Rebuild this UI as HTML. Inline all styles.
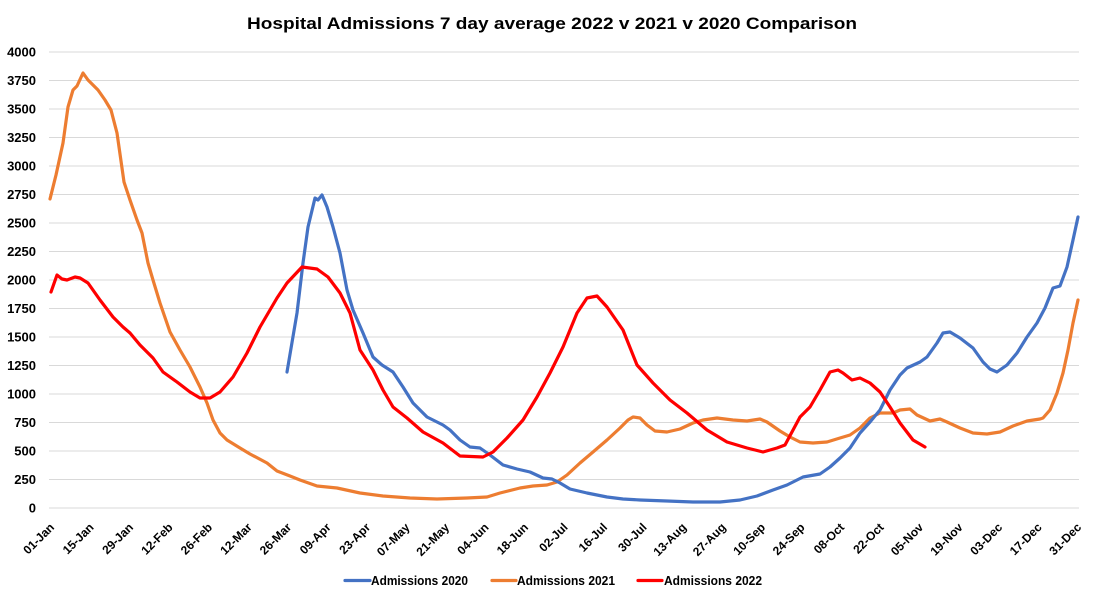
<!DOCTYPE html>
<html>
<head>
<meta charset="utf-8">
<style>
  html, body { margin: 0; padding: 0; background: #ffffff; }
  svg { display: block; }
  text { font-family: "Liberation Sans", Arial, sans-serif; font-weight: bold; fill: #000; }
</style>
</head>
<body>
<svg width="1103" height="600" viewBox="0 0 1103 600" xmlns="http://www.w3.org/2000/svg">
  <rect width="1103" height="600" fill="#ffffff"/>
  <!-- Title -->
  <text x="552" y="29" font-size="17" text-anchor="middle" textLength="610" lengthAdjust="spacingAndGlyphs">Hospital Admissions 7 day average 2022 v 2021 v 2020 Comparison</text>

  <!-- gridlines -->
  <g stroke="#d9d9d9" stroke-width="1">
    <line x1="49" x2="1079" y1="508" y2="508"/>
    <line x1="49" x2="1079" y1="479.5" y2="479.5"/>
    <line x1="49" x2="1079" y1="451" y2="451"/>
    <line x1="49" x2="1079" y1="422.5" y2="422.5"/>
    <line x1="49" x2="1079" y1="394" y2="394"/>
    <line x1="49" x2="1079" y1="365.5" y2="365.5"/>
    <line x1="49" x2="1079" y1="337" y2="337"/>
    <line x1="49" x2="1079" y1="308.5" y2="308.5"/>
    <line x1="49" x2="1079" y1="280" y2="280"/>
    <line x1="49" x2="1079" y1="251.5" y2="251.5"/>
    <line x1="49" x2="1079" y1="223" y2="223"/>
    <line x1="49" x2="1079" y1="194.5" y2="194.5"/>
    <line x1="49" x2="1079" y1="166" y2="166"/>
    <line x1="49" x2="1079" y1="137.5" y2="137.5"/>
    <line x1="49" x2="1079" y1="109" y2="109"/>
    <line x1="49" x2="1079" y1="80.5" y2="80.5"/>
    <line x1="49" x2="1079" y1="52" y2="52"/>
  </g>

  <!-- y labels -->
  <g font-size="13" text-anchor="end">
    <text x="36" y="512.5">0</text>
    <text x="36" y="484">250</text>
    <text x="36" y="455.5">500</text>
    <text x="36" y="427">750</text>
    <text x="36" y="398.5">1000</text>
    <text x="36" y="370">1250</text>
    <text x="36" y="341.5">1500</text>
    <text x="36" y="313">1750</text>
    <text x="36" y="284.5">2000</text>
    <text x="36" y="256">2250</text>
    <text x="36" y="227.5">2500</text>
    <text x="36" y="199">2750</text>
    <text x="36" y="170.5">3000</text>
    <text x="36" y="142">3250</text>
    <text x="36" y="113.5">3500</text>
    <text x="36" y="85">3750</text>
    <text x="36" y="56.5">4000</text>
  </g>

  <!-- x labels -->
  <g font-size="12" text-anchor="end">
    <text transform="translate(55,528) rotate(-45)">01-Jan</text>
    <text transform="translate(94.5,528) rotate(-45)">15-Jan</text>
    <text transform="translate(134,528) rotate(-45)">29-Jan</text>
    <text transform="translate(173.5,528) rotate(-45)">12-Feb</text>
    <text transform="translate(213,528) rotate(-45)">26-Feb</text>
    <text transform="translate(252.5,528) rotate(-45)">12-Mar</text>
    <text transform="translate(292,528) rotate(-45)">26-Mar</text>
    <text transform="translate(331.5,528) rotate(-45)">09-Apr</text>
    <text transform="translate(371,528) rotate(-45)">23-Apr</text>
    <text transform="translate(410.5,528) rotate(-45)">07-May</text>
    <text transform="translate(450,528) rotate(-45)">21-May</text>
    <text transform="translate(489.5,528) rotate(-45)">04-Jun</text>
    <text transform="translate(529,528) rotate(-45)">18-Jun</text>
    <text transform="translate(568.5,528) rotate(-45)">02-Jul</text>
    <text transform="translate(608,528) rotate(-45)">16-Jul</text>
    <text transform="translate(647.5,528) rotate(-45)">30-Jul</text>
    <text transform="translate(687,528) rotate(-45)">13-Aug</text>
    <text transform="translate(726.5,528) rotate(-45)">27-Aug</text>
    <text transform="translate(766,528) rotate(-45)">10-Sep</text>
    <text transform="translate(805.5,528) rotate(-45)">24-Sep</text>
    <text transform="translate(845,528) rotate(-45)">08-Oct</text>
    <text transform="translate(884.5,528) rotate(-45)">22-Oct</text>
    <text transform="translate(924,528) rotate(-45)">05-Nov</text>
    <text transform="translate(963.5,528) rotate(-45)">19-Nov</text>
    <text transform="translate(1003,528) rotate(-45)">03-Dec</text>
    <text transform="translate(1042.5,528) rotate(-45)">17-Dec</text>
    <text transform="translate(1082,528) rotate(-45)">31-Dec</text>
  </g>

  <!-- series -->
  <g fill="none" stroke-width="3.2" stroke-linejoin="round" stroke-linecap="round">
    <!-- 2021 orange -->
    <polyline stroke="#ED7D31" points="50,199 56,175 63,143 68,107 73,90 77,86 83,73 88,80 98,90 105,100 111,110 117,133 124,182 130,200 137,220 142,233 148,263 153,280 160,303 170,332 180,350 190,367 200,387 207,403 213,420 220,433 227,440 240,448 250,454 267,463 277,471 290,476 300,480 317,486 337,488 360,493 383,496 410,498 437,499 467,498 487,497 500,493 520,488 533,486 547,485 557,482 567,475 580,463 593,452 607,440 620,428 628,420 633,417 640,418 647,425 655,431 667,432 680,429 693,423 703,420 717,418 733,420 747,421 760,419 767,422 780,431 790,437 800,442 813,443 827,442 840,438 850,435 860,428 870,418 880,413 893,413 900,410 910,409 917,415 930,421 940,419 947,422 960,428 973,433 987,434 1000,432 1013,426 1027,421 1040,419 1043,418 1050,410 1057,393 1063,373 1068,350 1073,323 1078,300"/>
    <!-- 2020 blue -->
    <polyline stroke="#4472C4" points="287,372 297,313 303,263 308,227 315,198 318,200 322,195 327,207 333,227 340,253 347,290 353,310 363,333 373,357 382,365 393,372 403,387 413,403 427,417 443,425 450,430 460,440 470,447 480,448 490,455 503,465 517,469 530,472 543,478 552,479 560,483 570,489 587,493 607,497 623,499 640,500 667,501 693,502 720,502 740,500 757,496 773,490 787,485 803,477 820,474 830,467 840,458 850,448 860,433 870,422 880,410 890,390 900,375 907,368 920,362 927,357 937,343 943,333 950,332 960,338 973,348 983,362 990,369 997,372 1007,365 1017,353 1027,337 1037,323 1045,308 1053,288 1060,286 1067,267 1073,240 1078,217"/>
    <!-- 2022 red -->
    <polyline stroke="#FF0000" points="51,292 57,275 62,279 67,280 75,277 80,278 88,283 100,300 113,317 123,327 130,333 140,345 153,358 163,372 177,382 190,392 200,398 210,398 220,392 233,377 247,353 260,327 277,298 287,283 302,267 317,269 328,277 340,293 350,313 360,350 373,370 383,390 393,407 407,418 423,432 443,443 460,456 483,457 493,452 507,438 523,420 537,397 550,373 563,347 577,313 587,298 597,296 607,307 623,330 637,365 653,383 670,400 687,413 707,430 727,442 747,448 763,452 777,448 785,445 800,417 810,407 820,390 830,372 838,370 843,373 852,380 860,378 870,383 880,392 890,407 900,423 913,440 925,447"/>
  </g>

  <!-- legend -->
  <g stroke-width="3.2" stroke-linecap="round">
    <line x1="345" x2="370" y1="580.5" y2="580.5" stroke="#4472C4"/>
    <line x1="492" x2="516" y1="580.5" y2="580.5" stroke="#ED7D31"/>
    <line x1="638" x2="662" y1="580.5" y2="580.5" stroke="#FF0000"/>
  </g>
  <g font-size="13">
    <text x="371" y="585" textLength="97" lengthAdjust="spacingAndGlyphs">Admissions 2020</text>
    <text x="517" y="585" textLength="98" lengthAdjust="spacingAndGlyphs">Admissions 2021</text>
    <text x="664" y="585" textLength="98" lengthAdjust="spacingAndGlyphs">Admissions 2022</text>
  </g>
</svg>
</body>
</html>
